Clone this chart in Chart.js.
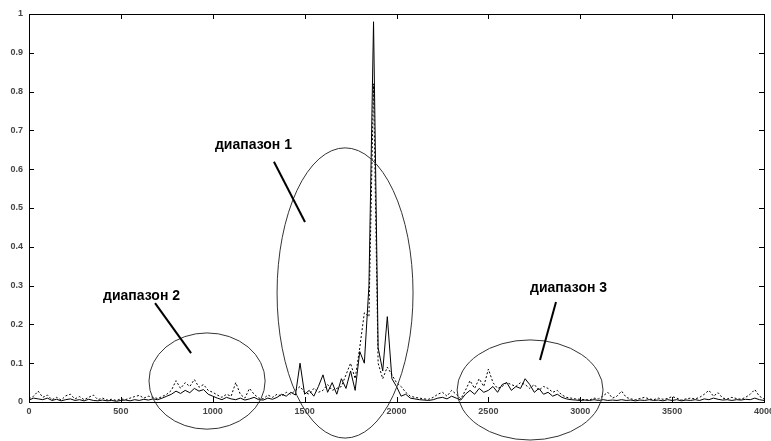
<!DOCTYPE html>
<html>
<head>
<meta charset="utf-8">
<script src="https://cdn.jsdelivr.net/npm/chart.js@4.4.1/dist/chart.umd.min.js"></script>
<style>
  body { margin: 0; background: #fff; }
  canvas { display: block; }
</style>
</head>
<body>
<canvas id="grafico" width="771" height="441"></canvas>
<script>
// шаг по оси X между отсчётами
const sampleStep = 25;

// сплошная линия
const solidSeries = [
  0.005, 0.010, 0.008, 0.006, 0.010, 0.004, 0.007, 0.003, 0.006, 0.008,
  0.004, 0.006, 0.003, 0.007, 0.004, 0.003, 0.005, 0.003, 0.004, 0.002,
  0.004, 0.005, 0.003, 0.006, 0.004, 0.007, 0.005, 0.008, 0.006, 0.010,
  0.015, 0.020, 0.028, 0.022, 0.030, 0.024, 0.035, 0.028, 0.032, 0.020,
  0.015, 0.010, 0.006, 0.012, 0.008, 0.006, 0.010, 0.005, 0.008, 0.012,
  0.006, 0.005, 0.010, 0.007, 0.012, 0.020, 0.015, 0.025, 0.018, 0.100,
  0.020, 0.030, 0.015, 0.040, 0.070, 0.025, 0.050, 0.020, 0.060, 0.035,
  0.080, 0.030, 0.130, 0.100, 0.300, 0.980, 0.140, 0.080, 0.220, 0.060,
  0.040, 0.015, 0.020, 0.010, 0.008, 0.006, 0.005, 0.004, 0.006, 0.010,
  0.012, 0.008, 0.015, 0.010, 0.005, 0.020, 0.030, 0.020, 0.035, 0.025,
  0.030, 0.040, 0.025, 0.045, 0.050, 0.030, 0.040, 0.035, 0.060, 0.045,
  0.025, 0.035, 0.020, 0.025, 0.015, 0.020, 0.012, 0.008, 0.006, 0.005,
  0.004, 0.005, 0.004, 0.006, 0.004, 0.006, 0.004, 0.005, 0.004, 0.006,
  0.004, 0.005, 0.003, 0.005, 0.004, 0.006, 0.004, 0.005, 0.003, 0.006,
  0.004, 0.006, 0.003, 0.005, 0.004, 0.006, 0.004, 0.008, 0.006, 0.010,
  0.007, 0.005, 0.006, 0.004, 0.006, 0.005, 0.007, 0.006, 0.010, 0.006,
  0.004
];

// пунктирная линия
const dottedSeries = [
  0.008, 0.015, 0.028, 0.012, 0.018, 0.006, 0.012, 0.005, 0.016, 0.020,
  0.008, 0.014, 0.006, 0.012, 0.018, 0.006, 0.010, 0.005, 0.007, 0.004,
  0.008, 0.006, 0.010, 0.014, 0.017, 0.010, 0.015, 0.012, 0.009, 0.014,
  0.020, 0.030, 0.055, 0.035, 0.050, 0.040, 0.058, 0.038, 0.045, 0.030,
  0.025, 0.018, 0.012, 0.020, 0.015, 0.050, 0.020, 0.010, 0.035, 0.020,
  0.010, 0.008, 0.018, 0.012, 0.020, 0.015, 0.025, 0.020, 0.030, 0.040,
  0.025, 0.020, 0.035, 0.025, 0.030, 0.045, 0.030, 0.035, 0.040, 0.070,
  0.100, 0.060, 0.140, 0.230, 0.220, 0.820, 0.100, 0.060, 0.090, 0.070,
  0.050, 0.040, 0.025, 0.015, 0.012, 0.010, 0.008, 0.007, 0.012, 0.020,
  0.025, 0.015, 0.030, 0.020, 0.008, 0.030, 0.055, 0.035, 0.060, 0.040,
  0.085, 0.050, 0.035, 0.040, 0.050, 0.045, 0.040, 0.050, 0.045, 0.035,
  0.045, 0.030, 0.040, 0.035, 0.025, 0.030, 0.018, 0.012, 0.010, 0.008,
  0.007, 0.006, 0.005, 0.010, 0.008, 0.016, 0.025, 0.010, 0.015, 0.028,
  0.012, 0.008, 0.006, 0.009, 0.012, 0.008, 0.006, 0.010, 0.007, 0.009,
  0.014, 0.010, 0.005, 0.008, 0.010, 0.008, 0.012, 0.020, 0.030, 0.015,
  0.024, 0.010, 0.008, 0.012, 0.009, 0.007, 0.012, 0.020, 0.032, 0.015,
  0.008
];

const xTickValues = [0, 500, 1000, 1500, 2000, 2500, 3000, 3500, 4000];
const yTickValues = [0, 0.1, 0.2, 0.3, 0.4, 0.5, 0.6, 0.7, 0.8, 0.9, 1];

const rangeLabels = ["диапазон 1", "диапазон 2", "диапазон 3"];

// эллипсы и выноски (в координатах данных)
const rangeMarks = [
  { cx: 1720, cy: 0.281, rx: 370, ry: 0.374, tx: 1012, ty: 0.662, line: [1333, 0.619, 1502, 0.464] },
  { cx: 969, cy: 0.054, rx: 316, ry: 0.124, tx: 403, ty: 0.273, line: [686, 0.255, 882, 0.126] },
  { cx: 2727, cy: 0.031, rx: 397, ry: 0.129, tx: 2727, ty: 0.294, line: [2868, 0.258, 2781, 0.108] }
];

const toPoints = arr => arr.map((v, i) => ({ x: i * sampleStep, y: v }));

// рамка с засечками внутрь + эллипсы и подписи
const overlay = {
  id: "overlay",
  afterDatasetsDraw(chart) {
    const { ctx, scales: { x, y } } = chart;
    ctx.save();
    rangeMarks.forEach((m, i) => {
      const cx = x.getPixelForValue(m.cx);
      const cy = y.getPixelForValue(m.cy);
      const rx = Math.abs(x.getPixelForValue(m.cx + m.rx) - cx);
      const ry = Math.abs(y.getPixelForValue(m.cy + m.ry) - cy);
      ctx.beginPath();
      ctx.ellipse(cx, cy, rx, ry, 0, 0, Math.PI * 2);
      ctx.strokeStyle = "#333";
      ctx.lineWidth = 1;
      ctx.stroke();

      ctx.beginPath();
      ctx.moveTo(x.getPixelForValue(m.line[0]), y.getPixelForValue(m.line[1]));
      ctx.lineTo(x.getPixelForValue(m.line[2]), y.getPixelForValue(m.line[3]));
      ctx.strokeStyle = "#000";
      ctx.lineWidth = 2;
      ctx.stroke();

      ctx.fillStyle = "#000";
      ctx.font = "bold 14px 'Liberation Sans', Arial, sans-serif";
      ctx.textAlign = "left";
      ctx.textBaseline = "middle";
      ctx.fillText(rangeLabels[i], x.getPixelForValue(m.tx), y.getPixelForValue(m.ty));
    });
    ctx.restore();
  },
  afterDraw(chart) {
    const { ctx, chartArea: { left, right, top, bottom }, scales: { x, y } } = chart;
    ctx.save();
    ctx.strokeStyle = "#000";
    ctx.lineWidth = 1;
    ctx.strokeRect(Math.round(left) + 0.5, Math.round(top) + 0.5, Math.round(right - left), Math.round(bottom - top));
    ctx.beginPath();
    xTickValues.forEach(v => {
      const px = Math.round(x.getPixelForValue(v)) + 0.5;
      ctx.moveTo(px, bottom); ctx.lineTo(px, bottom - 5);
      ctx.moveTo(px, top); ctx.lineTo(px, top + 5);
    });
    yTickValues.forEach(v => {
      const py = Math.round(y.getPixelForValue(v)) + 0.5;
      ctx.moveTo(left, py); ctx.lineTo(left + 5, py);
      ctx.moveTo(right, py); ctx.lineTo(right - 5, py);
    });
    ctx.stroke();
    ctx.restore();
  }
};

const ctx = document.getElementById("grafico").getContext("2d");

const grafico = new Chart(ctx, {
  type: "line",
  data: {
    datasets: [
      {
        data: toPoints(dottedSeries),
        borderColor: "#000",
        borderWidth: 1,
        borderDash: [2, 2],
        pointRadius: 0,
        tension: 0
      },
      {
        data: toPoints(solidSeries),
        borderColor: "#000",
        borderWidth: 1,
        pointRadius: 0,
        tension: 0
      }
    ]
  },
  options: {
    responsive: false,
    animation: false,
    layout: { padding: { top: 14, right: 7, left: 0, bottom: 0 } },
    scales: {
      x: {
        type: "linear",
        min: 0,
        max: 4000,
        grid: { display: false, drawTicks: false },
        border: { display: false },
        afterBuildTicks: s => { s.ticks = xTickValues.map(v => ({ value: v })); },
        afterFit: s => { s.height = 39; s.paddingLeft = 0; s.paddingRight = 0; },
        ticks: {
          padding: 4,
          maxRotation: 0,
          autoSkip: false,
          color: "#444",
          font: { family: "'Liberation Sans', Arial", size: 9, weight: "bold" },
          callback: v => String(v)
        }
      },
      y: {
        min: 0,
        max: 1,
        grid: { display: false, drawTicks: false },
        border: { display: false },
        afterBuildTicks: s => { s.ticks = yTickValues.map(v => ({ value: v })); },
        afterFit: s => { s.width = 29; s.paddingTop = 0; s.paddingBottom = 0; },
        ticks: {
          padding: 6,
          autoSkip: false,
          color: "#444",
          font: { family: "'Liberation Sans', Arial", size: 9, weight: "bold" },
          callback: v => String(Math.round(v * 10) / 10)
        }
      }
    },
    plugins: {
      legend: { display: false },
      tooltip: { enabled: false }
    }
  },
  plugins: [overlay]
});
</script>
</body>
</html>
